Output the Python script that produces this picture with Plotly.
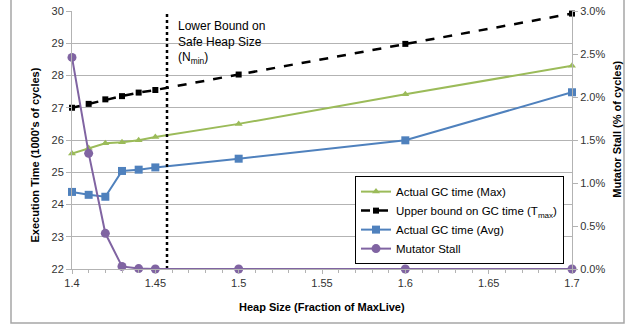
import plotly.graph_objects as go

heap = [1.40, 1.41, 1.42, 1.43, 1.44, 1.45, 1.50, 1.60, 1.70]
gc_max = [25.58, 25.75, 25.90, 25.93, 25.99, 26.09, 26.50, 27.42, 28.30]
gc_upper = [27.00, 27.12, 27.26, 27.36, 27.47, 27.55, 28.03, 28.98, 29.92]
gc_avg = [24.39, 24.30, 24.24, 25.04, 25.08, 25.15, 25.42, 25.99, 27.48]
stall = [2.46, 1.345, 0.415, 0.03, 0.005, 0.0, 0.0, 0.0, 0.0]
nmin = 1.457
left_ticks = [22, 23, 24, 25, 26, 27, 28, 29, 30]
right_ticks = [0.0, 0.5, 1.0, 1.5, 2.0, 2.5, 3.0]
x_ticks = [1.4, 1.45, 1.5, 1.55, 1.6, 1.65, 1.7]

FONT = "Liberation Sans, Arial, sans-serif"
GRID = "#b3b3b3"

fig = go.Figure()
fig.add_trace(go.Scatter(x=heap, y=gc_max, name="Actual GC time (Max)", mode="lines+markers",
                         line=dict(color="#9BBB59", width=2), cliponaxis=False,
                         marker=dict(symbol="triangle-up", size=7, color="#9BBB59")))
fig.add_trace(go.Scatter(x=heap, y=gc_upper, name="Upper bound on GC time (T<sub>max</sub>)", mode="lines+markers",
                         line=dict(color="black", width=2.5, dash="dash"), cliponaxis=False,
                         marker=dict(symbol="square", size=6, color="black")))
fig.add_trace(go.Scatter(x=heap, y=gc_avg, name="Actual GC time (Avg)", mode="lines+markers",
                         line=dict(color="#4F81BD", width=2), cliponaxis=False,
                         marker=dict(symbol="square", size=8, color="#4F81BD")))
fig.add_trace(go.Scatter(x=heap, y=stall, name="Mutator Stall", mode="lines+markers", yaxis="y2",
                         line=dict(color="#8064A2", width=2), cliponaxis=False,
                         marker=dict(symbol="circle", size=9, color="#8064A2")))
# N_min vertical line
fig.add_trace(go.Scatter(x=[nmin, nmin], y=[left_ticks[0], left_ticks[-1]], mode="lines", showlegend=False,
                         line=dict(color="black", width=2.5, dash="dot"), hoverinfo="skip"))

fig.update_layout(
    width=628, height=327,
    margin=dict(l=72, r=56, t=11, b=58, autoexpand=False),
    paper_bgcolor="white", plot_bgcolor="white",
    font=dict(family=FONT, size=11, color="#333333"),
    showlegend=True,
    legend=dict(x=0.566, y=0.36, xanchor="left", yanchor="top", bgcolor="white",
                bordercolor="black", borderwidth=1, font=dict(size=11.5, color="black"),
                itemwidth=30, tracegroupgap=0),
    xaxis=dict(range=[1.4, 1.7], tickvals=x_ticks, ticktext=[str(v) for v in x_ticks],
               showgrid=False, zeroline=False, showline=True, linecolor=GRID, linewidth=1,
               ticks="outside", ticklen=4, tickcolor=GRID, automargin=False,
               minor=dict(dtick=0.01, ticks="outside", ticklen=3, tickcolor=GRID, showgrid=False)),
    yaxis=dict(range=[22, 30], tickvals=left_ticks, showgrid=True, gridcolor=GRID, gridwidth=1,
               zeroline=False, showline=True, linecolor=GRID, ticks="outside", ticklen=5, tickcolor=GRID,
               automargin=False),
    yaxis2=dict(range=[0, 3], overlaying="y", side="right", tickvals=right_ticks,
                ticktext=[f"{v:.1f}%" for v in right_ticks], showgrid=False, zeroline=False,
                showline=True, linecolor=GRID, ticks="outside", ticklen=5, tickcolor=GRID,
                automargin=False),
    annotations=[
        dict(x=1.4625, y=29.8, xref="x", yref="y", xanchor="left", yanchor="top", align="left",
             showarrow=False, font=dict(size=12, color="black"),
             text="Lower Bound on<br>Safe Heap Size<br>(N<sub>min</sub>)"),
        dict(x=0.5, y=-0.147, xref="paper", yref="paper", xanchor="center", yanchor="middle",
             showarrow=False, font=dict(size=11, color="black"),
             text="<b>Heap Size (Fraction of MaxLive)</b>"),
        dict(x=-0.074, y=0.44, xref="paper", yref="paper", xanchor="center", yanchor="middle",
             showarrow=False, textangle=-90, font=dict(size=11, color="black"),
             text="<b>Execution Time (1000's of cycles)</b>"),
        dict(x=1.09, y=0.54, xref="paper", yref="paper", xanchor="center", yanchor="middle",
             showarrow=False, textangle=-90, font=dict(size=11, color="black"),
             text="<b>Mutator Stall (% of cycles)</b>"),
    ],
    shapes=[dict(type="rect", xref="paper", yref="paper", x0=-0.122, x1=1.104, y0=-0.209, y1=1.05,
                 line=dict(color="#a6a6a6", width=1.5), layer="below")],
)

fig.write_html("out.html", config={"displayModeBar": False},
               post_script="document.body.style.margin='0px';document.body.style.overflow='hidden';")
